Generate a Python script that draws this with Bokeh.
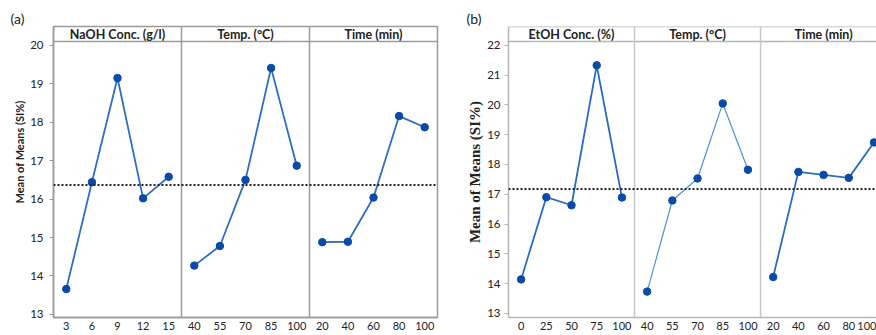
from bokeh.plotting import figure
from bokeh.models import Range1d, FixedTicker, Span, Label, Title
from bokeh.layouts import row
from bokeh.embed import file_html
from bokeh.resources import INLINE
import numpy as np

# ---------------- data (a) ----------------
a_factors = ["NaOH Conc. (g/l)", "Temp. (°C)", "Time (min)"]
a_levels = [["3", "6", "9", "12", "15"],
            ["40", "55", "70", "85", "100"],
            ["20", "40", "60", "80", "100"]]
a_naoh = [13.66, 16.44, 19.15, 16.02, 16.58]
a_temp = [14.27, 14.78, 16.50, 19.41, 16.87]
a_time = [14.88, 14.89, 16.04, 18.16, 17.87]
a_yticks = [13, 14, 15, 16, 17, 18, 19, 20]

# ---------------- data (b) ----------------
b_factors = ["EtOH Conc. (%)", "Temp. (°C)", "Time (min)"]
b_levels = [["0", "25", "50", "75", "100"],
            ["40", "55", "70", "85", "100"],
            ["20", "40", "60", "80", "100"]]
b_etoh = [14.14, 16.90, 16.63, 21.33, 16.89]
b_temp = [13.73, 16.79, 17.53, 20.05, 17.82]
b_time = [14.22, 17.75, 17.65, 17.55, 18.74]
b_yticks = [13, 14, 15, 16, 17, 18, 19, 20, 21, 22]

FIG_H = 335
TOP = 26
BOTTOM = 18
FRAME_H = FIG_H - TOP - BOTTOM
HEADER_PX = 15
YLABEL = "Mean of Means (SI%)"


def make_panel(tag, factors, levels, series, yticks, ybot, ytop,
               width, border_left, border_right, xend,
               frame_color, div_color, line_colors, line_widths,
               ylab_font, ylab_size, ylab_align, ylab_offset, ylab_standoff,
               tick_standoff, tag_offset, full_outline):
    data_px = FRAME_H - HEADER_PX
    upp = (ytop - ybot) / data_px
    yend = ytop + HEADER_PX * upp
    p = figure(width=width, height=FIG_H, output_backend="svg",
               toolbar_location=None,
               x_range=Range1d(0, xend), y_range=Range1d(ybot, yend),
               min_border_left=border_left, min_border_right=border_right,
               min_border_top=TOP, min_border_bottom=BOTTOM,
               background_fill_color="white", border_fill_color="white")
    p.grid.visible = False
    if full_outline:
        p.outline_line_color = frame_color
        p.outline_line_width = 1.5
    else:
        p.outline_line_color = None
        p.add_layout(Span(location=yend, dimension="width",
                          line_color=frame_color, line_width=1.5))

    # panel tag as title
    p.title.text = tag
    p.title.align = "left"
    p.title.offset = tag_offset
    p.title.standoff = 0
    p.title.text_font = "Lato"
    p.title.text_font_style = "normal"
    p.title.text_font_size = "14px"
    p.title.text_color = "#222222"

    # x axis
    ticks, overrides = [], {}
    for k, lv in enumerate(levels):
        for i, lab in enumerate(lv):
            pos = k * 5 + i + 0.5
            ticks.append(pos)
            overrides[pos] = lab
    p.xaxis.ticker = FixedTicker(ticks=ticks)
    p.xaxis.major_label_overrides = overrides
    p.xaxis.major_tick_out = 0
    p.xaxis.major_tick_in = 0
    p.xaxis.minor_tick_line_color = None
    p.xaxis.major_label_standoff = 4
    p.xaxis.axis_line_color = frame_color
    p.xaxis.axis_line_width = 1.5
    p.xaxis.major_label_text_font = "Lato"
    p.xaxis.major_label_text_font_size = "11px"
    p.xaxis.major_label_text_color = "#222222"

    # y axis
    p.yaxis.ticker = FixedTicker(ticks=yticks)
    p.yaxis.major_tick_out = 4
    p.yaxis.major_tick_in = 0
    p.yaxis.major_tick_line_color = frame_color
    p.yaxis.minor_tick_line_color = None
    p.yaxis.major_label_standoff = tick_standoff
    p.yaxis.axis_line_color = frame_color
    p.yaxis.axis_line_width = 1.5
    p.yaxis.major_label_text_font = "Lato"
    p.yaxis.major_label_text_font_size = "11.5px"
    p.yaxis.major_label_text_color = "#222222"

    # y label as a side title (allows shifting along the axis)
    p.add_layout(Title(text=YLABEL, align=ylab_align, offset=ylab_offset,
                       standoff=ylab_standoff, text_font=ylab_font,
                       text_font_size=ylab_size, text_font_style="bold",
                       text_color="#222222"), "left")

    # header separator and panel dividers
    p.add_layout(Span(location=ytop, dimension="width",
                      line_color=frame_color, line_width=1.5))
    for k in (1, 2):
        p.add_layout(Span(location=k * 5, dimension="height",
                          line_color=div_color, line_width=1.5))
    for k, name in enumerate(factors):
        p.add_layout(Label(x=k * 5 + 2.5, y=FRAME_H - HEADER_PX / 2,
                           y_units="screen", text=name,
                           text_align="center", text_baseline="middle",
                           text_font="Lato", text_font_style="bold",
                           text_font_size="12.5px", text_color="#222222"))

    # grand mean line
    grand = float(np.mean(series[0]))
    p.add_layout(Span(location=grand, dimension="width",
                      line_color="#222222", line_width=2,
                      line_dash="2 2"))

    for k, vals in enumerate(series):
        xs = [k * 5 + i + 0.5 for i in range(len(vals))]
        p.line(xs, vals, line_color=line_colors[k], line_width=line_widths[k])
        p.scatter(xs, vals, size=7.5, fill_color="#0b4aa8",
                  line_color="#0b4aa8")
    return p


pa = make_panel("(a)", a_factors, a_levels, [a_naoh, a_temp, a_time],
                a_yticks, 12.92, 20.1, width=440, border_left=53,
                border_right=3, xend=15,
                frame_color="#9a9a9a", div_color="#9a9a9a",
                line_colors=["#2f6ec4"] * 3, line_widths=[1.8, 1.8, 1.8],
                ylab_font="Lato", ylab_size="11px", ylab_align="left",
                ylab_offset=114, ylab_standoff=4, tick_standoff=6,
                tag_offset=-43, full_outline=True)

pb = make_panel("(b)", b_factors, b_levels, [b_etoh, b_temp, b_time],
                b_yticks, 12.86, 22.13, width=436, border_left=68,
                border_right=0, xend=14.6,
                frame_color="#b5b5b5", div_color="#c8c8c8",
                line_colors=["#2a6bc2", "#4d8fdc", "#2a6bc2"],
                line_widths=[1.8, 1.2, 1.8],
                ylab_font="Liberation Serif", ylab_size="15px",
                ylab_align="center", ylab_offset=0,
                ylab_standoff=3, tick_standoff=4,
                tag_offset=-42, full_outline=False)

layout = row(pa, pb, spacing=0)
open("out.html", "w").write(file_html(layout, INLINE))
